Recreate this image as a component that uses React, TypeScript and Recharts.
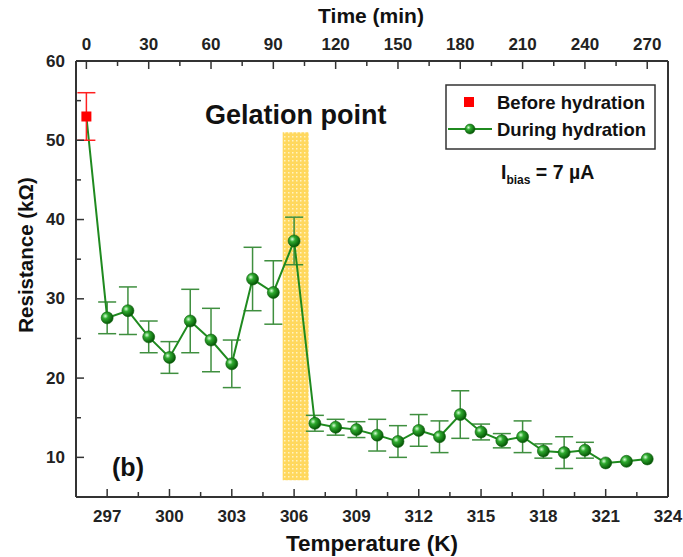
import React from 'react';
import {
  ComposedChart, Line, Scatter, XAxis, YAxis, ErrorBar, ReferenceArea, Customized,
} from 'recharts';

// temperature (K) of each reading
const temperatures = [
  296, 297, 298, 299, 300, 301, 302, 303, 304, 305, 306, 307, 308, 309,
  310, 311, 312, 313, 314, 315, 316, 317, 318, 319, 320, 321, 322, 323,
];
// resistance during hydration (kOhm)
const duringValues = [
  53, 27.6, 28.5, 25.2, 22.6, 27.2, 24.8, 21.8, 32.5, 30.8, 37.3, 14.3, 13.8, 13.5,
  12.8, 12.0, 13.4, 12.6, 15.4, 13.2, 12.1, 12.6, 10.8, 10.6, 10.9, 9.3, 9.5, 9.8,
];
const duringErrors = [
  null, 2, 3, 2, 2, 4, 4, 3, 4, 4, 3, 1, 1, 1,
  2, 2, 2, 2, 3, 1, 0.9, 2, 0.9, 2, 1, null, null, null,
];
// before hydration
const beforeTemps = [296];
const beforeValues = [53];
const beforeErrors = [3];

// gelation band
const gelationT = [305.45, 306.7];
const gelationR = [7.1, 51];

// top axis: time (min), 0 min at 296 K, 10 min per K
const T0 = 296;
const MIN_PER_K = 10;

const bottomMajor = [297, 300, 303, 306, 309, 312, 315, 318, 321, 324];
const bottomMinor = [298.5, 301.5, 304.5, 307.5, 310.5, 313.5, 316.5, 319.5, 322.5];
const topMajor = [0, 30, 60, 90, 120, 150, 180, 210, 240, 270];
const topMinor = [15, 45, 75, 105, 135, 165, 195, 225, 255];
const leftMajor = [10, 20, 30, 40, 50, 60];
const leftMinor = [15, 25, 35, 45, 55];

const minToT = (m: number) => T0 + m / MIN_PER_K;
const tToMin = (t: number) => Math.round((t - T0) * MIN_PER_K);

const duringData = temperatures.map((t, i) => ({ T: t, R: duringValues[i], err: duringErrors[i] }));
const beforeData = beforeTemps.map((t, i) => ({ T: t, R: beforeValues[i], err: beforeErrors[i] }));

const W = 683;
const H = 557;
const M = { top: 31, right: 14, bottom: 30, left: 16 };
const PLOT_LEFT = 76;
const PLOT_TOP = 61;
const PLOT_BOTTOM = 497;

const FONT = '"Liberation Sans", Arial, sans-serif';
const AXIS = '#333';
const GREEN_LINE = '#1f8a1f';
const GREEN_ERR = '#3f8f3f';
const TICK_FONT = 17;

const BottomTick = (props: any) => {
  const { x, payload } = props;
  const major = bottomMajor.includes(payload.value);
  return (
    <g>
      <line x1={x} x2={x} y1={PLOT_BOTTOM} y2={PLOT_BOTTOM - (major ? 8 : 5)} stroke={AXIS} strokeWidth={1.5} />
      {major && (
        <text x={x} y={PLOT_BOTTOM + 19} textAnchor="middle" dominantBaseline="central"
          fontFamily={FONT} fontWeight="bold" fontSize={TICK_FONT} fill="#222">{payload.value}</text>
      )}
    </g>
  );
};

const TopTick = (props: any) => {
  const { x, payload } = props;
  const m = tToMin(payload.value);
  const major = topMajor.includes(m);
  return (
    <g>
      <line x1={x} x2={x} y1={PLOT_TOP} y2={PLOT_TOP + (major ? 8 : 5)} stroke={AXIS} strokeWidth={1.5} />
      {major && (
        <text x={x} y={PLOT_TOP - 17} textAnchor="middle" dominantBaseline="central"
          fontFamily={FONT} fontWeight="bold" fontSize={TICK_FONT} fill="#222">{m}</text>
      )}
    </g>
  );
};

const LeftTick = (props: any) => {
  const { y, payload } = props;
  const major = leftMajor.includes(payload.value);
  return (
    <g>
      <line x1={PLOT_LEFT} x2={PLOT_LEFT + (major ? 8 : 5)} y1={y} y2={y} stroke={AXIS} strokeWidth={1.5} />
      {major && (
        <text x={PLOT_LEFT - 11} y={y} textAnchor="end" dominantBaseline="central"
          fontFamily={FONT} fontWeight="bold" fontSize={TICK_FONT} fill="#222">{payload.value}</text>
      )}
    </g>
  );
};

const Ball = (props: any) => {
  const { cx, cy, index } = props;
  if (index === 0 || cx == null) return <g key={'b' + index} />;
  return (
    <circle key={'b' + index} cx={cx} cy={cy} r={6} fill="url(#ballGrad)" stroke="#0b5d0b" strokeWidth={0.6} />
  );
};

const RedSquare = (props: any) => {
  const { cx, cy } = props;
  return <rect x={cx - 5} y={cy - 5} width={10} height={10} fill="#ff0000" />;
};

const Annotations = () => (
  <g fontFamily={FONT} fontWeight="bold" fill="#111">
    <text x={371} y={15} textAnchor="middle" dominantBaseline="central" fontSize={21}>Time (min)</text>
    <text x={372} y={543} textAnchor="middle" dominantBaseline="central" fontSize={22.5}>Temperature (K)</text>
    <text x={25} y={255} textAnchor="middle" dominantBaseline="central" fontSize={20.5}
      transform="rotate(-90 25 255)">Resistance (kΩ)</text>
    <text x={128} y={467} textAnchor="middle" dominantBaseline="central" fontSize={25}>(b)</text>
    <text x={501} y={179} fontSize={19.5}>
      I<tspan fontSize={12} dy={5}>bias</tspan><tspan dy={-5}> = 7 µA</tspan>
    </text>
    {/* legend */}
    <rect x={446} y={85} width={209} height={64} fill="#fff" stroke={AXIS} strokeWidth={1.5} />
    <rect x={464} y={97} width={10} height={10} fill="#ff0000" />
    <text x={497} y={102} dominantBaseline="central" fontSize={18.5}>Before hydration</text>
    <line x1={448} x2={492} y1={129} y2={129} stroke={GREEN_LINE} strokeWidth={2} />
    <circle cx={470} cy={129} r={5} fill="url(#ballGrad)" stroke="#0b5d0b" strokeWidth={0.5} />
    <text x={497} y={129} dominantBaseline="central" fontSize={18.5}>During hydration</text>
  </g>
);

export default function App() {
  return (
    <div style={{ position: 'absolute', left: 0, top: 0, background: '#fff' }}>
      <ComposedChart width={W} height={H} data={duringData} margin={M}>
        <defs>
          <radialGradient id="ballGrad" cx="35%" cy="35%" r="65%">
            <stop offset="0%" stopColor="#d8ffd8" />
            <stop offset="35%" stopColor="#2faa2f" />
            <stop offset="100%" stopColor="#065806" />
          </radialGradient>
          <pattern id="dots" width={4} height={4} patternUnits="userSpaceOnUse">
            <rect width={4} height={4} fill="#ffd85e" />
            <rect width={1.5} height={1.5} fill="#fff3c4" />
          </pattern>
        </defs>
        <XAxis xAxisId="T" dataKey="T" type="number" orientation="bottom" domain={[295.5, 324]}
          ticks={[...bottomMajor, ...bottomMinor]} allowDataOverflow height={30}
          axisLine={{ stroke: AXIS, strokeWidth: 2 }} tickLine={false} tick={<BottomTick />} interval={0} />
        <XAxis xAxisId="time" dataKey="T" type="number" orientation="top" domain={[295.5, 324]}
          ticks={[...topMajor, ...topMinor].map(minToT)} allowDataOverflow height={30}
          axisLine={{ stroke: AXIS, strokeWidth: 2 }} tickLine={false} tick={<TopTick />} interval={0} />
        <YAxis yAxisId="R" type="number" domain={[5, 60]} ticks={[...leftMajor, ...leftMinor]}
          allowDataOverflow width={60} axisLine={{ stroke: AXIS, strokeWidth: 2 }} tickLine={false}
          tick={<LeftTick />} interval={0} />
        <YAxis yAxisId="right" orientation="right" type="number" domain={[0, 1]} width={1}
          tick={false} tickLine={false} axisLine={{ stroke: AXIS, strokeWidth: 2 }} />
        <ReferenceArea xAxisId="T" yAxisId="R" x1={gelationT[0]} x2={gelationT[1]} y1={gelationR[0]} y2={gelationR[1]}
          fill="url(#dots)" fillOpacity={1} stroke="none"
          label={{ value: 'Gelation point', position: 'top', offset: 8, fontSize: 27, fontWeight: 'bold', fontFamily: FONT, fill: '#111' }} />
        <Line xAxisId="T" yAxisId="R" dataKey="R" stroke={GREEN_LINE} strokeWidth={2}
          dot={<Ball />} activeDot={false} isAnimationActive={false} legendType="none">
          <ErrorBar dataKey="err" direction="y" width={9} stroke={GREEN_ERR} strokeWidth={1.5} />
        </Line>
        <Scatter xAxisId="T" yAxisId="R" data={beforeData} dataKey="R" fill="#ff0000"
          shape={<RedSquare />} isAnimationActive={false} legendType="none">
          <ErrorBar dataKey="err" direction="y" width={9} stroke="#ff2020" strokeWidth={1.5} />
        </Scatter>
        <Customized component={<Annotations />} />
      </ComposedChart>
    </div>
  );
}
